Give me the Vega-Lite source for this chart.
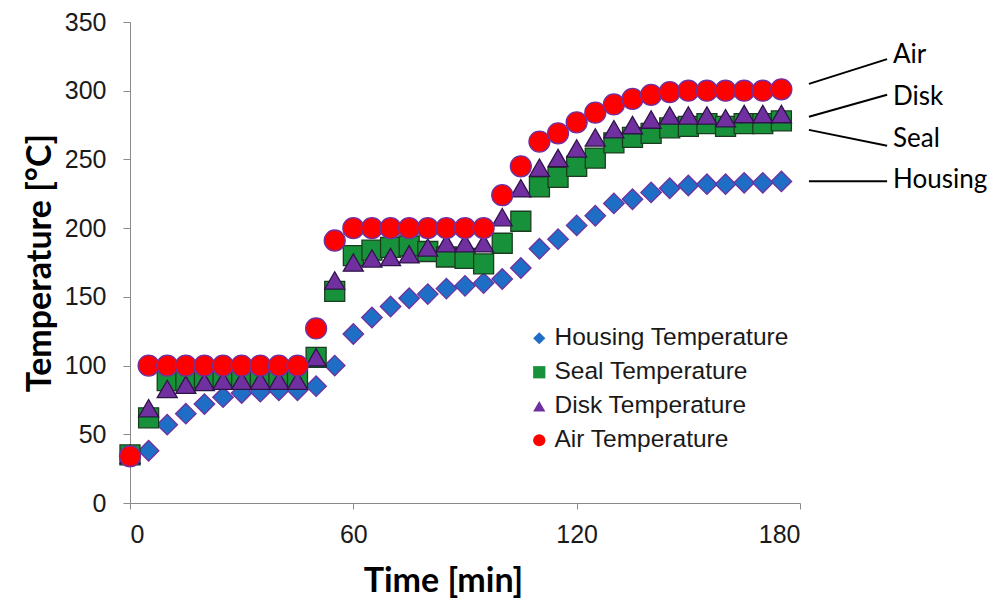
{
  "$schema": "https://vega.github.io/schema/vega-lite/v6.json",
  "width": 670,
  "height": 481,
  "autosize": {"type": "none"},
  "padding": {"left": 130, "top": 22, "right": 195, "bottom": 100},
  "background": "white",
  "config": {
    "view": {"stroke": null},
    "axis": {
      "grid": false,
      "domainColor": "#8a8a8a",
      "tickColor": "#8a8a8a",
      "labelFont": "Liberation Sans",
      "labelFontSize": 25,
      "labelColor": "#1a1a1a",
      "titleFont": "Lato",
      "titleFontWeight": "bold",
      "titleFontSize": 34,
      "titleColor": "#000000"
    }
  },
  "datasets": {
    "temps": [
      {"t":0,"s":"Housing Temperature","v":35},{"t":5,"s":"Housing Temperature","v":38},{"t":10,"s":"Housing Temperature","v":57},{"t":15,"s":"Housing Temperature","v":65},{"t":20,"s":"Housing Temperature","v":72},{"t":25,"s":"Housing Temperature","v":77},{"t":30,"s":"Housing Temperature","v":80},{"t":35,"s":"Housing Temperature","v":81},{"t":40,"s":"Housing Temperature","v":82},{"t":45,"s":"Housing Temperature","v":82},{"t":50,"s":"Housing Temperature","v":85},{"t":55,"s":"Housing Temperature","v":100},{"t":60,"s":"Housing Temperature","v":123},{"t":65,"s":"Housing Temperature","v":135},{"t":70,"s":"Housing Temperature","v":143},{"t":75,"s":"Housing Temperature","v":149},{"t":80,"s":"Housing Temperature","v":152},{"t":85,"s":"Housing Temperature","v":156},{"t":90,"s":"Housing Temperature","v":158},{"t":95,"s":"Housing Temperature","v":160},{"t":100,"s":"Housing Temperature","v":163},{"t":105,"s":"Housing Temperature","v":171},{"t":110,"s":"Housing Temperature","v":185},{"t":115,"s":"Housing Temperature","v":192},{"t":120,"s":"Housing Temperature","v":202},{"t":125,"s":"Housing Temperature","v":209},{"t":130,"s":"Housing Temperature","v":218},{"t":135,"s":"Housing Temperature","v":221},{"t":140,"s":"Housing Temperature","v":226},{"t":145,"s":"Housing Temperature","v":229},{"t":150,"s":"Housing Temperature","v":231},{"t":155,"s":"Housing Temperature","v":232},{"t":160,"s":"Housing Temperature","v":232},{"t":165,"s":"Housing Temperature","v":233},{"t":170,"s":"Housing Temperature","v":233},{"t":175,"s":"Housing Temperature","v":234},
      {"t":0,"s":"Seal Temperature","v":35},{"t":5,"s":"Seal Temperature","v":62},{"t":10,"s":"Seal Temperature","v":89},{"t":15,"s":"Seal Temperature","v":89},{"t":20,"s":"Seal Temperature","v":91},{"t":25,"s":"Seal Temperature","v":91},{"t":30,"s":"Seal Temperature","v":91},{"t":35,"s":"Seal Temperature","v":91},{"t":40,"s":"Seal Temperature","v":91},{"t":45,"s":"Seal Temperature","v":91},{"t":50,"s":"Seal Temperature","v":106},{"t":55,"s":"Seal Temperature","v":154},{"t":60,"s":"Seal Temperature","v":180},{"t":65,"s":"Seal Temperature","v":184},{"t":70,"s":"Seal Temperature","v":186},{"t":75,"s":"Seal Temperature","v":187},{"t":80,"s":"Seal Temperature","v":183},{"t":85,"s":"Seal Temperature","v":179},{"t":90,"s":"Seal Temperature","v":178},{"t":95,"s":"Seal Temperature","v":174},{"t":100,"s":"Seal Temperature","v":189},{"t":105,"s":"Seal Temperature","v":205},{"t":110,"s":"Seal Temperature","v":230},{"t":115,"s":"Seal Temperature","v":237},{"t":120,"s":"Seal Temperature","v":245},{"t":125,"s":"Seal Temperature","v":251},{"t":130,"s":"Seal Temperature","v":262},{"t":135,"s":"Seal Temperature","v":266},{"t":140,"s":"Seal Temperature","v":269},{"t":145,"s":"Seal Temperature","v":273},{"t":150,"s":"Seal Temperature","v":274},{"t":155,"s":"Seal Temperature","v":276},{"t":160,"s":"Seal Temperature","v":274},{"t":165,"s":"Seal Temperature","v":276},{"t":170,"s":"Seal Temperature","v":276},{"t":175,"s":"Seal Temperature","v":278},
      {"t":0,"s":"Disk Temperature","v":35},{"t":5,"s":"Disk Temperature","v":69},{"t":10,"s":"Disk Temperature","v":83},{"t":15,"s":"Disk Temperature","v":86},{"t":20,"s":"Disk Temperature","v":88},{"t":25,"s":"Disk Temperature","v":89},{"t":30,"s":"Disk Temperature","v":89},{"t":35,"s":"Disk Temperature","v":89},{"t":40,"s":"Disk Temperature","v":89},{"t":45,"s":"Disk Temperature","v":89},{"t":50,"s":"Disk Temperature","v":106},{"t":55,"s":"Disk Temperature","v":162},{"t":60,"s":"Disk Temperature","v":175},{"t":65,"s":"Disk Temperature","v":178},{"t":70,"s":"Disk Temperature","v":179},{"t":75,"s":"Disk Temperature","v":181},{"t":80,"s":"Disk Temperature","v":186},{"t":85,"s":"Disk Temperature","v":189},{"t":90,"s":"Disk Temperature","v":189},{"t":95,"s":"Disk Temperature","v":189},{"t":100,"s":"Disk Temperature","v":208},{"t":105,"s":"Disk Temperature","v":229},{"t":110,"s":"Disk Temperature","v":244},{"t":115,"s":"Disk Temperature","v":251},{"t":120,"s":"Disk Temperature","v":258},{"t":125,"s":"Disk Temperature","v":266},{"t":130,"s":"Disk Temperature","v":272},{"t":135,"s":"Disk Temperature","v":275},{"t":140,"s":"Disk Temperature","v":279},{"t":145,"s":"Disk Temperature","v":282},{"t":150,"s":"Disk Temperature","v":282},{"t":155,"s":"Disk Temperature","v":282},{"t":160,"s":"Disk Temperature","v":280},{"t":165,"s":"Disk Temperature","v":283},{"t":170,"s":"Disk Temperature","v":283},{"t":175,"s":"Disk Temperature","v":283},
      {"t":0,"s":"Air Temperature","v":34},{"t":5,"s":"Air Temperature","v":100},{"t":10,"s":"Air Temperature","v":100},{"t":15,"s":"Air Temperature","v":100},{"t":20,"s":"Air Temperature","v":100},{"t":25,"s":"Air Temperature","v":100},{"t":30,"s":"Air Temperature","v":100},{"t":35,"s":"Air Temperature","v":100},{"t":40,"s":"Air Temperature","v":100},{"t":45,"s":"Air Temperature","v":100},{"t":50,"s":"Air Temperature","v":127},{"t":55,"s":"Air Temperature","v":191},{"t":60,"s":"Air Temperature","v":200},{"t":65,"s":"Air Temperature","v":200},{"t":70,"s":"Air Temperature","v":200},{"t":75,"s":"Air Temperature","v":200},{"t":80,"s":"Air Temperature","v":200},{"t":85,"s":"Air Temperature","v":200},{"t":90,"s":"Air Temperature","v":200},{"t":95,"s":"Air Temperature","v":200},{"t":100,"s":"Air Temperature","v":224},{"t":105,"s":"Air Temperature","v":245},{"t":110,"s":"Air Temperature","v":263},{"t":115,"s":"Air Temperature","v":269},{"t":120,"s":"Air Temperature","v":277},{"t":125,"s":"Air Temperature","v":284},{"t":130,"s":"Air Temperature","v":290},{"t":135,"s":"Air Temperature","v":294},{"t":140,"s":"Air Temperature","v":297},{"t":145,"s":"Air Temperature","v":299},{"t":150,"s":"Air Temperature","v":300},{"t":155,"s":"Air Temperature","v":300},{"t":160,"s":"Air Temperature","v":300},{"t":165,"s":"Air Temperature","v":300},{"t":170,"s":"Air Temperature","v":300},{"t":175,"s":"Air Temperature","v":301}
    ],
    "notes": [
      {"label":"Air","x1":182.4,"y1":305,"x2":203.4,"y2":323,"tx":205,"ty":326},
      {"label":"Disk","x1":182.4,"y1":281,"x2":203.4,"y2":297,"tx":205,"ty":295.5},
      {"label":"Seal","x1":182.4,"y1":271.5,"x2":203.4,"y2":260,"tx":205,"ty":265},
      {"label":"Housing","x1":182.4,"y1":234.2,"x2":203.4,"y2":234.2,"tx":205,"ty":235}
    ]
  },
  "encoding": {
    "x": {"field": "t", "type": "quantitative", "scale": {"domain": [0, 180], "nice": false},
          "axis": {"values": [0, 60, 120, 180], "title": "Time [min]", "tickSize": 6, "labelPadding": 13, "titleX": 313, "titleY": 78, "titleBaseline": "middle"}},
    "y": {"field": "v", "type": "quantitative", "scale": {"domain": [0, 350], "nice": false},
          "axis": {"values": [0, 50, 100, 150, 200, 250, 300, 350], "title": "Temperature [°C]", "tickSize": 7, "labelPadding": 17, "titlePadding": 7}},
    "fill": {"field": "s", "type": "nominal",
             "scale": {"domain": ["Housing Temperature", "Seal Temperature", "Disk Temperature", "Air Temperature"], "range": ["#1f6ec6", "#17923a", "#7030a0", "#ff0000"]},
             "legend": {"title": null, "orient": "none", "legendX": 392, "legendY": 299, "padding": 5, "fillColor": "white",
                        "labelFont": "Liberation Sans", "labelFontSize": 24.5, "labelColor": "#1a1a1a", "labelOffset": 3, "labelLimit": 400,
                        "symbolSize": 150, "symbolStrokeWidth": 0, "rowPadding": 9}},
    "shape": {"field": "s", "type": "nominal",
              "scale": {"domain": ["Housing Temperature", "Seal Temperature", "Disk Temperature", "Air Temperature"], "range": ["diamond", "square", "triangle-up", "circle"]},
              "legend": {"title": null, "orient": "none", "legendX": 392, "legendY": 299, "padding": 5, "fillColor": "white",
                         "labelFont": "Liberation Sans", "labelFontSize": 24.5, "labelColor": "#1a1a1a", "labelOffset": 3, "labelLimit": 400,
                         "symbolSize": 150, "symbolStrokeWidth": 0, "rowPadding": 9}}
  },
  "layer": [
    {
      "data": {"name": "temps"},
      "transform": [{"filter": "datum.s == 'Housing Temperature'"}],
      "mark": {"type": "point", "filled": true, "strokeWidth": 1.3, "opacity": 1, "stroke": "#7030a0", "size": 420}
    },
    {
      "data": {"name": "temps"},
      "transform": [{"filter": "datum.s == 'Seal Temperature'"}],
      "mark": {"type": "point", "filled": true, "strokeWidth": 1.3, "opacity": 1, "stroke": "#1b3d1f", "size": 400}
    },
    {
      "data": {"name": "temps"},
      "transform": [{"filter": "datum.s == 'Disk Temperature'"}],
      "mark": {"type": "point", "filled": true, "strokeWidth": 1.3, "opacity": 1, "stroke": "#2e1446", "size": 400}
    },
    {
      "data": {"name": "temps"},
      "transform": [{"filter": "datum.s == 'Air Temperature'"}],
      "mark": {"type": "point", "filled": true, "strokeWidth": 1.3, "opacity": 1, "stroke": "#7030a0", "size": 440}
    },
    {
      "data": {"name": "notes"},
      "mark": {"type": "rule", "color": "#000000", "strokeWidth": 2},
      "encoding": {
        "x": {"field": "x1", "type": "quantitative"},
        "y": {"field": "y1", "type": "quantitative"},
        "x2": {"field": "x2"},
        "y2": {"field": "y2"},
        "fill": {"value": null},
        "shape": {"value": null}
      }
    },
    {
      "data": {"name": "notes"},
      "mark": {"type": "text", "font": "Lato", "fontSize": 26, "color": "#000000", "align": "left", "baseline": "middle"},
      "encoding": {
        "x": {"field": "tx", "type": "quantitative"},
        "y": {"field": "ty", "type": "quantitative"},
        "text": {"field": "label"},
        "fill": {"value": "#000000"},
        "shape": {"value": null}
      }
    }
  ]
}
